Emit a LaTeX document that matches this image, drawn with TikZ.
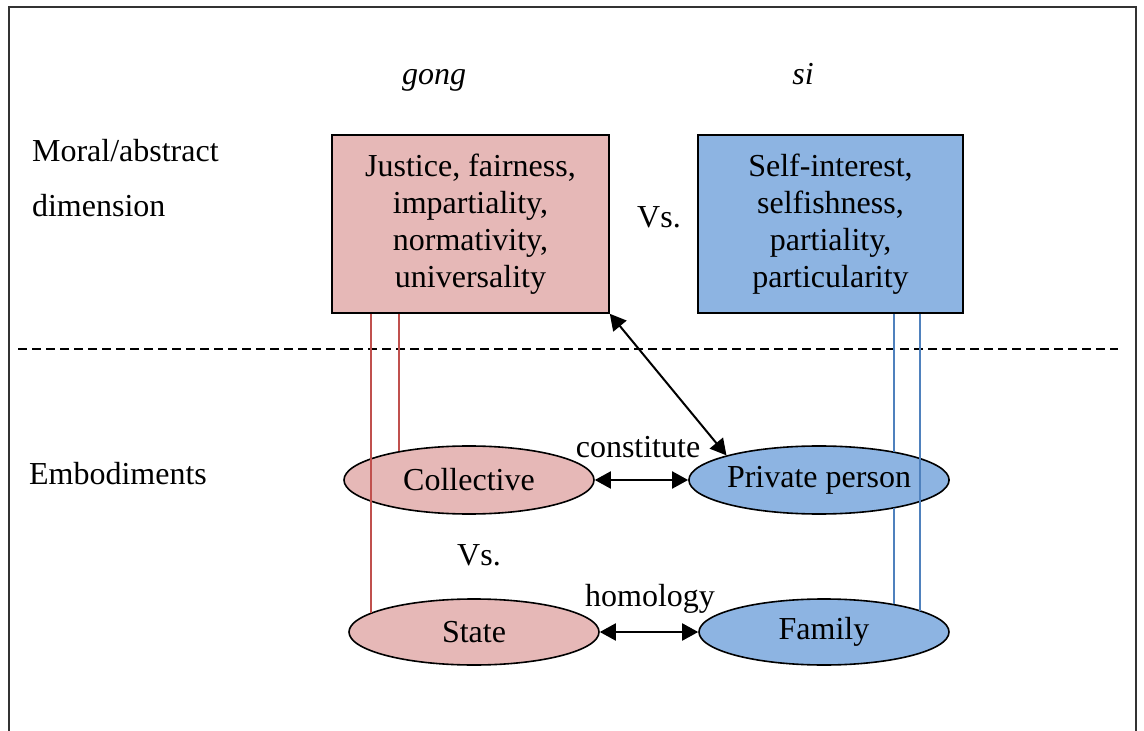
\documentclass[tikz,border=0pt]{standalone}
\usepackage{fontspec}
\setmainfont{Liberation Serif}
\usetikzlibrary{shapes.geometric,arrows.meta}

\definecolor{gongfill}{RGB}{230,184,183}
\definecolor{sifill}{RGB}{141,180,226}
\definecolor{gongline}{RGB}{192,80,77}
\definecolor{siline}{RGB}{79,129,189}

\begin{document}
\begin{tikzpicture}[x=0.5pt, y=-0.5pt,
		every node/.style = {font=\fontsize{16}{18.6}\selectfont},
		quality/.style = {draw, line width=0.8pt, align=center, inner sep=0, minimum height=89pt},
		embody/.style = {draw, ellipse, line width=0.8pt, inner sep=0, minimum width=125pt, minimum height=34pt},
		link/.style = {<->, >={Triangle[length=8pt, width=8.5pt]}, line width=1pt},
		tie/.style = {line width=0.8pt}]
	\useasboundingbox (0,0) rectangle (1144,731);
	\draw[line width=0.6pt, black!80] (9,7) rectangle (1136,780);

	% headings
	\node[anchor=base] (gong) at (434,85) {\textit{gong}};
	\node[anchor=base] (si) at (803,85) {\textit{si}};
	\node[anchor=base west] (moral) at (25,162) {Moral/abstract};
	\node[anchor=base west] (dim) at (25,217) {dimension};
	\node[anchor=base west] (emb) at (22,484) {Embodiments};

	% moral dimension
	\node[quality, fill=gongfill, minimum width=138.5pt] (just) at (470.5,224) {Justice, fairness,\\impartiality,\\normativity,\\universality};
	\node[quality, fill=sifill, minimum width=132.5pt] (self) at (830.5,224) {Self-interest,\\selfishness,\\partiality,\\particularity};
	\node[anchor=base] (vs1) at (659,228) {Vs.};

	\draw[dashed, dash pattern=on 4.5pt off 2.5pt, line width=0.7pt] (18,349) -- (1118,349);

	% embodiments
	\node[embody, fill=gongfill] (coll) at (469,480) {Collective};
	\node[embody, fill=sifill] (pers) at (819,480) {Private person};
	\node[embody, fill=gongfill, minimum height=33pt] (state) at (474,632) {State};
	\node[embody, fill=sifill, minimum height=33pt] (fam) at (824,632) {Family};
	\node[anchor=base] (vs2) at (479,565) {Vs.};
	\node[anchor=base] (cons) at (638,458) {constitute};
	\node[anchor=base] (homo) at (650,606) {homology};

	\draw[link] (coll) -- (pers);
	\draw[link] (state) -- (fam);
	\draw[link] (just.south east) -- (pers.north west);

	% vertical ties
	\coordinate (g1) at (371,0);
	\coordinate (g2) at (399,0);
	\coordinate (s1) at (894,0);
	\coordinate (s2) at (920,0);
	\draw[tie, gongline] (g1 |- just.south) -- (g1 |- state.170);
	\draw[tie, gongline] (g2 |- just.south) -- (g2 |- coll.157);
	\draw[tie, siline] (s1 |- self.south) -- (s1 |- pers.20);
	\draw[tie, siline] (s1 |- pers.-20) -- (s1 |- fam.21);
	\draw[tie, siline] (s2 |- self.south) -- (s2 |- fam.12);
\end{tikzpicture}
\end{document}
